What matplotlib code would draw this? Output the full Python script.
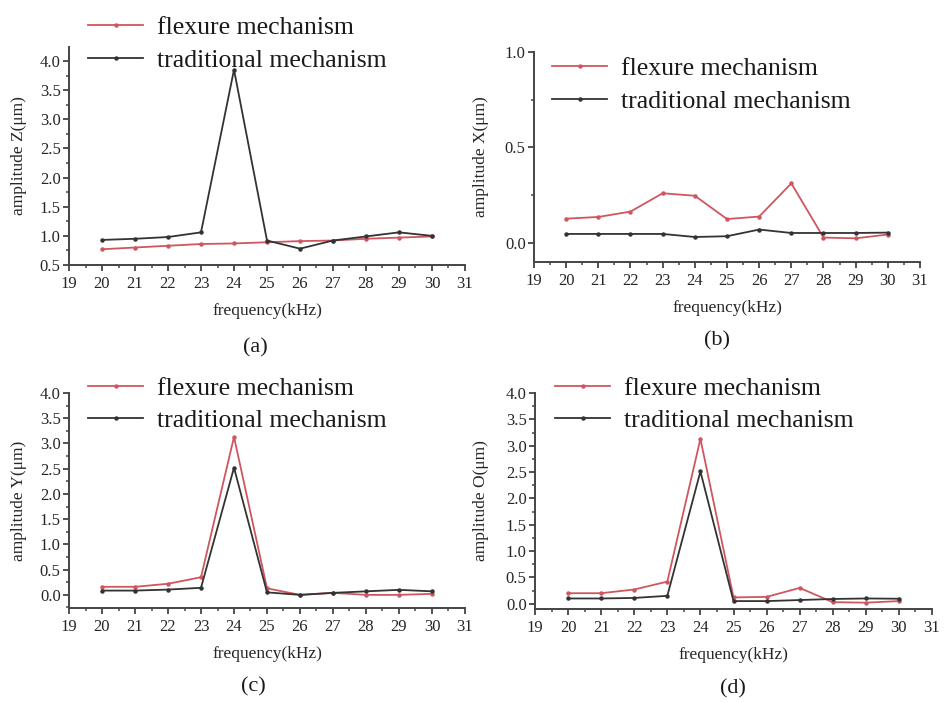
import matplotlib
matplotlib.use("Agg")
import matplotlib.pyplot as plt
from matplotlib.ticker import MultipleLocator

plt.rcParams['font.family'] = ['Liberation Serif', 'DejaVu Serif']
plt.rcParams['mathtext.fontset'] = 'stix'

freq = [20, 21, 22, 23, 24, 25, 26, 27, 28, 29, 30]

z_flexure = [0.77, 0.80, 0.83, 0.86, 0.87, 0.89, 0.91, 0.92, 0.95, 0.97, 0.99]
z_traditional = [0.93, 0.95, 0.98, 1.06, 3.85, 0.92, 0.78, 0.92, 0.99, 1.06, 1.00]

x_flexure = [0.127, 0.136, 0.164, 0.260, 0.247, 0.125, 0.138, 0.312, 0.028, 0.024, 0.044]
x_traditional = [0.047, 0.047, 0.047, 0.047, 0.031, 0.035, 0.070, 0.052, 0.052, 0.052, 0.054]

y_flexure = [0.16, 0.16, 0.22, 0.35, 3.13, 0.13, 0.00, 0.04, 0.00, 0.00, 0.02]
y_traditional = [0.085, 0.085, 0.105, 0.14, 2.52, 0.05, 0.00, 0.04, 0.07, 0.10, 0.07]

o_flexure = [0.20, 0.20, 0.27, 0.42, 3.13, 0.12, 0.13, 0.30, 0.03, 0.02, 0.05]
o_traditional = [0.10, 0.10, 0.11, 0.15, 2.51, 0.05, 0.05, 0.07, 0.09, 0.10, 0.095]

series_labels = ['flexure mechanism', 'traditional mechanism']
ylabels = ['amplitude Z(μm)', 'amplitude X(μm)', 'amplitude Y(μm)', 'amplitude O(μm)']
captions = ['(a)', '(b)', '(c)', '(d)']
xlabel = 'frequency(kHz)'

W, H = 944, 702
fig = plt.figure(figsize=(W / 100, H / 100), dpi=100)

RED = '#cf5660'
BLK = '#333333'
SPINE = '#444444'
TXT = '#262626'

def px_axes(left, right, top, bottom):
    return fig.add_axes([left / W, 1 - bottom / H, (right - left) / W, (bottom - top) / H])

panels = [
    dict(box=(69, 465, 47, 265), ylim=(0.5, 4.24), yticks=[0.5, 1.0, 1.5, 2.0, 2.5, 3.0, 3.5, 4.0],
         data=(z_flexure, z_traditional), leg=(88, 44), cap=(255, 348), ylab_x=27),
    dict(box=(534, 920, 52, 262), ylim=(-0.1, 1.0), yticks=[0.0, 0.5, 1.0],
         data=(x_flexure, x_traditional), leg=(552, 85), cap=(717, 341), ylab_x=489),
    dict(box=(69, 465, 393, 608), ylim=(-0.26, 4.0), yticks=[0.0, 0.5, 1.0, 1.5, 2.0, 2.5, 3.0, 3.5, 4.0],
         data=(y_flexure, y_traditional), leg=(88, 404.5), cap=(253, 687), ylab_x=27),
    dict(box=(535, 932, 393, 609), ylim=(-0.1, 4.0), yticks=[0.0, 0.5, 1.0, 1.5, 2.0, 2.5, 3.0, 3.5, 4.0],
         data=(o_flexure, o_traditional), leg=(555, 404.5), cap=(733, 689), ylab_x=489),
]

for i, p in enumerate(panels):
    ax = px_axes(*p['box'])
    fl, tr = p['data']
    ax.plot(freq, fl, color=RED, lw=1.3, marker='o', ms=2.2, label=series_labels[0])
    ax.plot(freq, tr, color=BLK, lw=1.3, marker='o', ms=2.2, label=series_labels[1])
    ax.set_xlim(19, 31)
    ax.set_ylim(*p['ylim'])
    ax.set_xticks(range(19, 32))
    ax.xaxis.set_minor_locator(MultipleLocator(0.5))
    ax.set_yticks(p['yticks'])
    ax.set_yticklabels([f'{v:.1f}' for v in p['yticks']])
    ax.yaxis.set_minor_locator(MultipleLocator(0.25))
    for s in ['top', 'right']:
        ax.spines[s].set_visible(False)
    for s in ['left', 'bottom']:
        ax.spines[s].set_color(SPINE)
        ax.spines[s].set_linewidth(1.4)
    ax.tick_params(axis='both', which='major', direction='out', length=4.5, width=1.3,
                   color=SPINE, labelsize=12, labelcolor=TXT)
    ax.tick_params(axis='both', which='minor', direction='out', length=2.5, width=1.1, color=SPINE)
    ax.tick_params(axis='x', which='major', pad=3.5)
    ax.tick_params(axis='y', which='major', pad=1.5)
    ax.set_xlabel(xlabel, fontsize=12.5, color=TXT, labelpad=8)
    ax.set_ylabel(ylabels[i], fontsize=12.5, color=TXT)
    ax.yaxis.set_label_coords((p['ylab_x'] - p['box'][0]) / (p['box'][1] - p['box'][0]), 0.5)
    lx, ly = p['leg']
    leg = ax.legend(loc='center left', bbox_to_anchor=(lx / W, 1 - ly / H), bbox_transform=fig.transFigure,
                    frameon=False, fontsize=18.5, handlelength=2.15, handletextpad=0.55,
                    labelspacing=0.38, borderpad=0, borderaxespad=0)
    for t in leg.get_texts():
        t.set_color('#1a1a1a')
    cx, cy = p['cap']
    fig.text(cx / W, 1 - cy / H, captions[i], fontsize=16, ha='center', va='center', color='#1a1a1a')

fig.savefig('out.png', dpi=100)
